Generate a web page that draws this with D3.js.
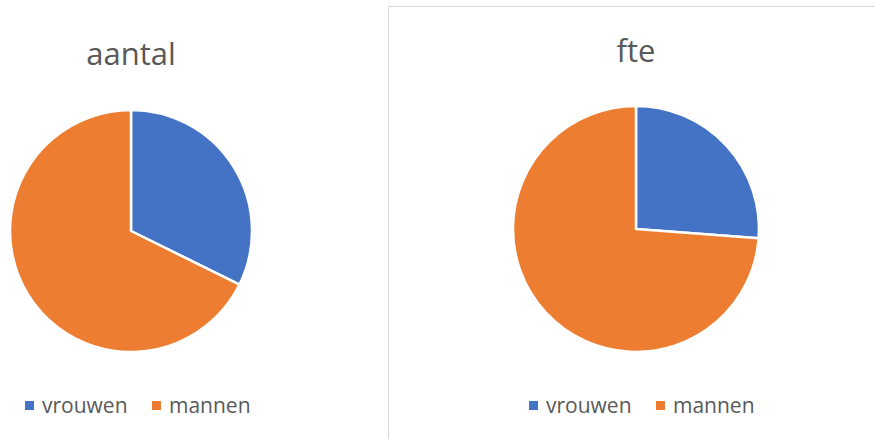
<!DOCTYPE html>
<html>
<head>
<script src="https://d3js.org/d3.v7.min.js"></script>
<style>
  html, body { margin: 0; padding: 0; background: #fff; }
  svg { display: block; font-family: 'Open Sans', sans-serif; }
  .title { font-size: 31px; fill: #595959; }
  .legend text { font-size: 21px; fill: #595959; }
</style>
</head>
<body>
<svg id="chart" width="875" height="439"></svg>
<script>
var categories = ["vrouwen", "mannen"];
var colors = ["#4472C4", "#ED7D31"];
var aantalValues = [32.3, 67.7];
var fteValues = [26.2, 73.8];

var charts = [
  { title: "aantal", values: aantalValues, cx: 131, cy: 231, r: 121, titleX: 131, titleY: 65, legendX: 25 },
  { title: "fte", values: fteValues, cx: 636, cy: 229, r: 123, titleX: 636, titleY: 62, legendX: 529 }
];

var svg = d3.select("#chart");

// light border around the second chart
svg.append("path")
  .attr("d", "M388.5,439 L388.5,6.5 L876,6.5")
  .attr("fill", "none")
  .attr("stroke", "#d9d9d9")
  .attr("stroke-width", 1);

var pie = d3.pie().sort(null).value(function(d){ return d; });
var color = d3.scaleOrdinal().domain(categories).range(colors);

charts.forEach(function(c){
  var g = svg.append("g");

  g.append("text")
    .attr("class", "title")
    .attr("x", c.titleX)
    .attr("y", c.titleY)
    .attr("text-anchor", "middle")
    .text(c.title);

  var arc = d3.arc().innerRadius(0).outerRadius(c.r);

  g.append("g")
    .attr("transform", "translate(" + c.cx + "," + c.cy + ")")
    .selectAll("path")
    .data(pie(c.values))
    .enter()
    .append("path")
    .attr("d", arc)
    .attr("fill", function(d, i){ return color(categories[i]); })
    .attr("stroke", "#fff")
    .attr("stroke-width", 2.5)
    .attr("stroke-linejoin", "round");

  var legend = g.append("g")
    .attr("class", "legend")
    .attr("transform", "translate(" + c.legendX + ",401)");

  var offsets = [0, 127];
  categories.forEach(function(cat, i){
    legend.append("rect")
      .attr("x", offsets[i])
      .attr("y", 0)
      .attr("width", 9)
      .attr("height", 9)
      .attr("fill", color(cat));
    legend.append("text")
      .attr("x", offsets[i] + 17)
      .attr("y", 11.5)
      .text(cat);
  });
});
</script>
</body>
</html>
